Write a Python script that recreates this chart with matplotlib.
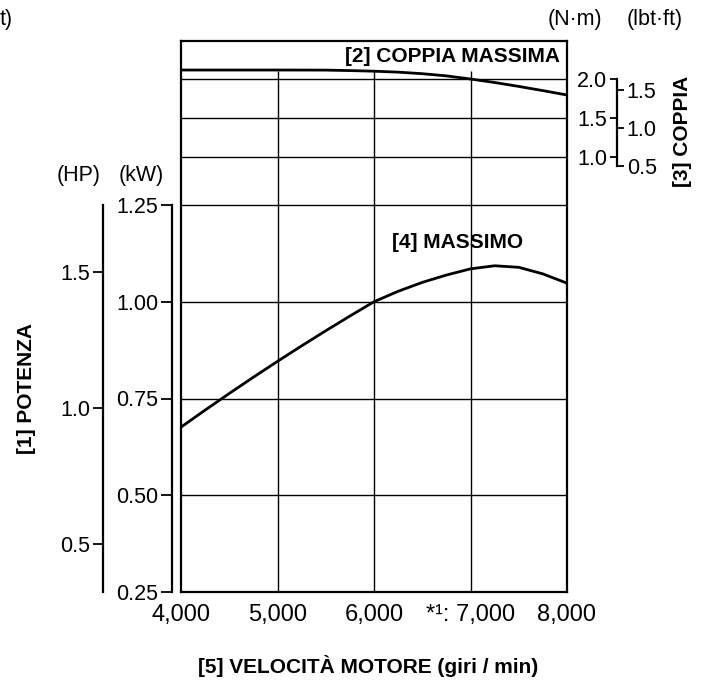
import matplotlib.pyplot as plt

plt.rcParams['font.family'] = ['Liberation Sans', 'DejaVu Sans']

# dati
rpm = [4000, 4250, 4500, 4750, 5000, 5250, 5500, 5750, 6000,
       6250, 6500, 6750, 7000, 7250, 7500, 7750, 8000]
power_kw = [0.676, 0.720, 0.763, 0.805, 0.846, 0.886, 0.925, 0.963, 1.000,
            1.027, 1.050, 1.069, 1.085, 1.093, 1.089, 1.072, 1.048]
torque_rpm = [4000, 4500, 5000, 5500, 5750, 6000, 6250, 6500, 6750, 7000,
              7250, 7500, 7750, 8000]
torque_nm = [2.115, 2.115, 2.115, 2.114, 2.108, 2.100, 2.088, 2.068, 2.040,
             2.000, 1.955, 1.905, 1.851, 1.795]

x_ticks = [4000, 5000, 6000, 7000, 8000]
x_labels = ['4,000', '5,000', '6,000', '*¹: 7,000', '8,000']
kw_ticks = [0.25, 0.50, 0.75, 1.00, 1.25]
kw_labels = ['0.25', '0.50', '0.75', '1.00', '1.25']
hp_ticks = [0.5, 1.0, 1.5]
hp_labels = ['0.5', '1.0', '1.5']
nm_ticks = [1.0, 1.5, 2.0]
nm_labels = ['1.0', '1.5', '2.0']
lbf_ticks = [0.5, 1.0, 1.5]
lbf_labels = ['0.5', '1.0', '1.5']

W, H = 712, 683
L, R, T, B = 181, 567, 41, 592   # riquadro del grafico in pixel
FS = 15.5


def fx(px):
    return px / W


def fy(py):
    return 1 - py / H


# scale verticali (pixel -> unità)
def kw_at(py):
    return 0.25 + (B - py) / 387


def nm_at(py):
    return 2.0 + (79 - py) / 78


def hp_at(py):
    return 0.5 + (544 - py) / 272


def lbf_at(py):
    return 0.5 + (166 - py) / 76


fig = plt.figure(figsize=(7.12, 6.83), dpi=100)

ax = fig.add_axes([fx(L), fy(B), (R - L) / W, (B - T) / H])
ax.set_xlim(4000, 8000)
ax.set_ylim(kw_at(B), kw_at(T))
for s in ax.spines.values():
    s.set_linewidth(1.6)
ax.set_yticks([])
ax.set_xticks(x_ticks, x_labels)
ax.tick_params(axis='x', length=0, pad=9, labelsize=17)

# griglia
ax.vlines(x_ticks[1:-1], kw_at(B), kw_at(71), color='black', lw=1.0)
ax.hlines(kw_ticks[1:], 4000, 8000, color='black', lw=1.0)
ax.plot(rpm, power_kw, color='black', lw=2.0, solid_joinstyle='round')

ax_t = ax.twinx()
ax_t.set_ylim(nm_at(B), nm_at(T))
ax_t.set_axis_off()
ax_t.hlines(nm_ticks, 4000, 8000, color='black', lw=1.0)
ax_t.plot(torque_rpm, torque_nm, color='black', lw=2.0, solid_joinstyle='round')


def side_axis(px, lim):
    a = fig.add_axes([fx(px), fy(B), 0.0001, (B - T) / H])
    a.set_ylim(*lim)
    a.patch.set_visible(False)
    a.set_xticks([])
    for s in a.spines.values():
        s.set_visible(False)
    return a


# asse kW
ax_kw = side_axis(172, (kw_at(B), kw_at(T)))
ax_kw.spines['left'].set_visible(True)
ax_kw.spines['left'].set_bounds(0.25, 1.25)
ax_kw.spines['left'].set_linewidth(1.6)
ax_kw.set_yticks(kw_ticks, kw_labels)
ax_kw.tick_params(axis='y', length=8, width=1.3, pad=2, labelsize=FS)

# asse HP
ax_hp = side_axis(103, (hp_at(B), hp_at(T)))
ax_hp.spines['left'].set_visible(True)
ax_hp.spines['left'].set_bounds(hp_at(B), hp_at(205))
ax_hp.spines['left'].set_linewidth(1.6)
ax_hp.set_yticks(hp_ticks, hp_labels)
ax_hp.tick_params(axis='y', length=7, width=1.3, pad=2, labelsize=FS)

# asse coppia N·m / lbf·ft
ax_nm = side_axis(617, (nm_at(B), nm_at(T)))
ax_nm.spines['left'].set_visible(True)
ax_nm.spines['left'].set_bounds(nm_at(166), 2.0)
ax_nm.spines['left'].set_linewidth(1.6)
ax_nm.set_yticks(nm_ticks, nm_labels)
ax_nm.tick_params(axis='y', length=5, width=1.3, pad=2, labelsize=FS)

ax_lbf = ax_nm.twinx()
ax_lbf.set_ylim(lbf_at(B), lbf_at(T))
for s in ax_lbf.spines.values():
    s.set_visible(False)
ax_lbf.set_yticks(lbf_ticks, lbf_labels)
ax_lbf.tick_params(axis='y', length=5, width=1.3, pad=2, labelsize=FS)

# testi
fig.text(fx(0), fy(20), 't)', fontsize=FS, va='center', ha='left')
fig.text(fx(79), fy(176), '(HP)', fontsize=FS, va='center', ha='center')
fig.text(fx(141), fy(176), '(kW)', fontsize=FS, va='center', ha='center')
fig.text(fx(575), fy(20), '(N·m)', fontsize=FS, va='center', ha='center')
fig.text(fx(655), fy(20), '(lbt·ft)', fontsize=FS, va='center', ha='center')
fig.text(fx(560), fy(56), '[2] COPPIA MASSIMA', fontsize=15, fontweight='bold',
         va='center', ha='right')
fig.text(fx(458), fy(243), '[4] MASSIMO', fontsize=15, fontweight='bold',
         va='center', ha='center')
fig.text(fx(682), fy(131), '[3] COPPIA', fontsize=15, fontweight='bold',
         va='center', ha='center', rotation=90)
fig.text(fx(27), fy(388), '[1] POTENZA', fontsize=15, fontweight='bold',
         va='center', ha='center', rotation=90)
fig.text(fx(368), fy(666), '[5] VELOCITÀ MOTORE (giri / min)', fontsize=15,
         fontweight='bold', va='center', ha='center')

fig.savefig('out.png', dpi=100)
